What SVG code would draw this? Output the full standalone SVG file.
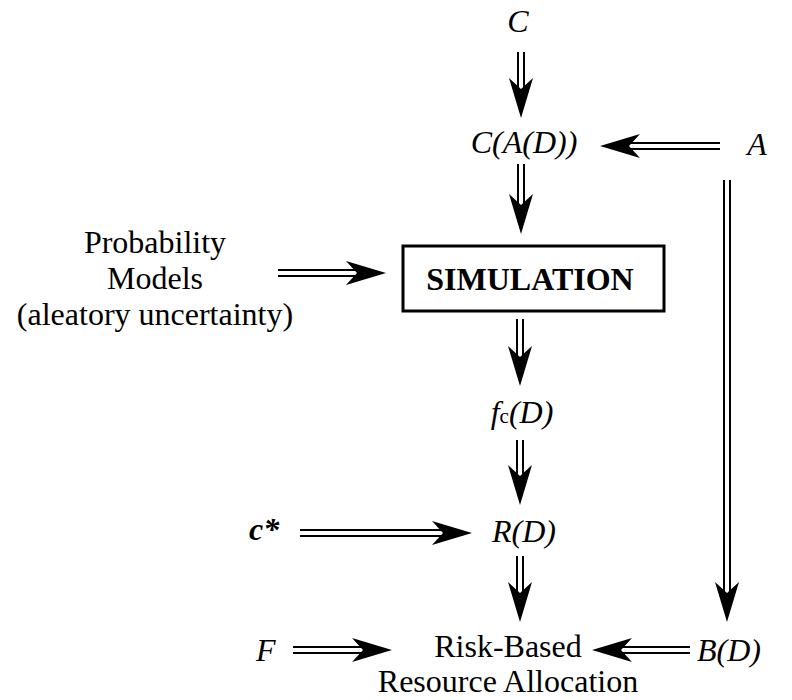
<svg xmlns="http://www.w3.org/2000/svg" width="792" height="700" viewBox="0 0 792 700">
<style>
text{font-family:"Liberation Serif","Times New Roman",serif;font-size:32px;fill:#000}
.i{font-style:italic}
.b{font-weight:bold}
.m{text-anchor:middle}
.dl{stroke:#000;stroke-width:2;fill:none}
.hd{fill:#000}
</style>
<defs>
<polygon id="hR" class="hd" points="0,0 -40,-12 -29,0 -40,12"/>
</defs>
<rect width="792" height="700" fill="#fff"/>
<g id="connectors">
<!-- C -> C(A(D)) -->
<path class="dl" d="M518,52V92M524,52V92"/><use href="#hR" transform="translate(521,118) rotate(90)"/>
<!-- A -> C(A(D)) -->
<path class="dl" d="M720,143H626M720,149H626"/><use href="#hR" transform="translate(600,146) rotate(180)"/>
<!-- C(A(D)) -> SIMULATION -->
<path class="dl" d="M518,164V208M524,164V208"/><use href="#hR" transform="translate(521,234) rotate(90)"/>
<!-- Probability -> SIMULATION -->
<path class="dl" d="M278,270H360M278,276H360"/><use href="#hR" transform="translate(386,273)"/>
<!-- SIMULATION -> fc(D) -->
<path class="dl" d="M517,319V360M523,319V360"/><use href="#hR" transform="translate(520,386) rotate(90)"/>
<!-- fc(D) -> R(D) -->
<path class="dl" d="M517,440V478M523,440V478"/><use href="#hR" transform="translate(520,505) rotate(90)"/>
<!-- c* -> R(D) -->
<path class="dl" d="M300,530H446M300,536H446"/><use href="#hR" transform="translate(472,533)"/>
<!-- R(D) -> Risk -->
<path class="dl" d="M517,556V596M523,556V596"/><use href="#hR" transform="translate(520,622) rotate(90)"/>
<!-- F -> Risk -->
<path class="dl" d="M293,647H366M293,653H366"/><use href="#hR" transform="translate(392,650)"/>
<!-- B(D) -> Risk -->
<path class="dl" d="M690,647H618M690,653H618"/><use href="#hR" transform="translate(592,650) rotate(180)"/>
<!-- A -> B(D) -->
<path class="dl" d="M724,180V596M730,180V596"/><use href="#hR" transform="translate(727,622) rotate(90)"/>
</g>
<g id="nC"><text class="i m" x="518" y="32">C</text></g>
<g id="nCAD"><text class="i m" x="524" y="153">C(A(D))</text></g>
<g id="nA"><text class="i m" x="757" y="155">A</text></g>
<g id="nProb">
<text class="m" x="155" y="253">Probability</text>
<text class="m" x="155" y="289">Models</text>
<text class="m" x="155" y="325">(aleatory uncertainty)</text>
</g>
<g id="nSim">
<rect x="403" y="246" width="261" height="65" fill="none" stroke="#000" stroke-width="3"/>
<text class="b m" x="530" y="290">SIMULATION</text>
</g>
<g id="nFc"><text class="m" x="522" y="423"><tspan class="i">f</tspan><tspan font-size="21">c</tspan><tspan class="i">(D)</tspan></text></g>
<g id="nRD"><text class="i m" x="524" y="542">R(D)</text></g>
<g id="nCstar"><text class="i b" x="249" y="540">c*</text></g>
<g id="nF"><text class="i" x="256" y="661">F</text></g>
<g id="nRisk">
<text class="m" x="508" y="657">Risk-Based</text>
<text class="m" x="508" y="692">Resource Allocation</text>
</g>
<g id="nBD"><text class="i" x="697" y="661">B(D)</text></g>
</svg>
